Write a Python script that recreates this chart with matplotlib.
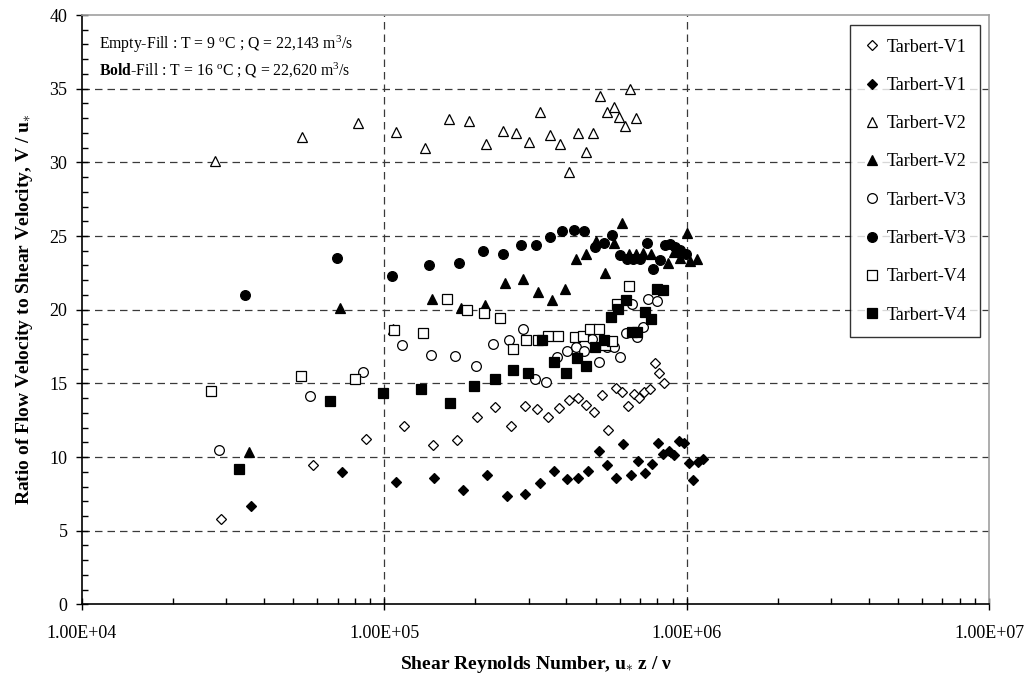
import matplotlib
matplotlib.use("Agg")
import matplotlib.pyplot as plt
from matplotlib.ticker import FixedLocator, NullFormatter, MultipleLocator

plt.rcParams['font.family'] = ['Liberation Serif', 'DejaVu Serif']
plt.rcParams['mathtext.fontset'] = 'custom'
plt.rcParams['mathtext.rm'] = 'Liberation Serif'
plt.rcParams['mathtext.it'] = 'Liberation Serif:italic'
plt.rcParams['mathtext.bf'] = 'Liberation Serif:bold'

# Shear Reynolds number (x) and V/u* (y) for each velocity profile
v1_empty_re = [28900, 57900, 86700, 116200, 145000, 174000, 203000, 232000, 262000, 291000,
               320000, 349000, 379000, 407000, 437000, 465000, 494000, 524000, 551000, 582000,
               612000, 638000, 670000, 698000, 723000, 757000, 786000, 812000, 841000]
v1_empty_ratio = [5.79, 9.44, 11.22, 12.12, 10.79, 11.13, 12.75, 13.38, 12.09, 13.49,
                  13.27, 12.75, 13.36, 13.87, 14.01, 13.51, 13.06, 14.21, 11.85, 14.68,
                  14.44, 13.49, 14.26, 13.99, 14.44, 14.62, 16.4, 15.72, 15.05]

v1_bold_re = [36200, 72400, 109300, 145500, 182000, 218000, 255000, 291000, 327000, 363000,
              401000, 436000, 473000, 511000, 547000, 583000, 618000, 656000, 692000, 728000,
              766000, 802000, 837000, 877000, 909000, 946000, 983000, 1019000, 1052000,
              1093000, 1129000]
v1_bold_ratio = [6.68, 9.0, 8.29, 8.56, 7.77, 8.76, 7.39, 7.48, 8.24, 9.08,
                 8.54, 8.6, 9.08, 10.43, 9.48, 8.58, 10.88, 8.81, 9.73, 8.92,
                 9.53, 10.95, 10.2, 10.38, 10.16, 11.1, 10.95, 9.59, 8.42,
                 9.66, 9.86]

v2_empty_re = [27500, 53500, 82000, 109200, 136300, 163600, 191000, 217700, 246000, 273000,
               300600, 327500, 354400, 381500, 408500, 436400, 463500, 490000, 515000, 546000,
               574000, 599000, 627000, 650000, 680000]
v2_empty_ratio = [30.1, 31.75, 32.7, 32.08, 31.0, 32.94, 32.83, 31.27, 32.15, 31.97,
                  31.36, 33.39, 31.86, 31.27, 29.34, 31.99, 30.7, 31.99, 34.5, 33.44,
                  33.78, 33.1, 32.49, 35.0, 33.03]

v2_bold_re = [35700, 71300, 106800, 143300, 179000, 215800, 251000, 287000, 322000, 358000,
              395000, 431000, 466000, 503000, 537000, 577000, 610000, 646000, 680000, 719000,
              765000, 865000, 905000, 950000, 1002000, 1026000, 1079000]
v2_bold_ratio = [10.34, 20.1, 18.66, 20.72, 20.14, 20.32, 21.81, 22.1, 21.2, 20.63,
                 21.38, 23.42, 23.78, 24.66, 22.47, 24.55, 25.9, 23.78, 23.78, 23.87,
                 23.8, 23.19, 23.9, 23.5, 25.18, 23.3, 23.43]

v3_empty_re = [28400, 56900, 85300, 114400, 143000, 171700, 200400, 228700, 257600, 286500,
               313900, 342000, 372000, 401000, 429000, 459000, 486500, 514000, 544000, 577000,
               603000, 631000, 658000, 684000, 716000, 743000, 800000]
v3_empty_ratio = [10.5, 14.12, 15.79, 17.59, 16.94, 16.89, 16.19, 17.66, 17.95, 18.67,
                  15.27, 15.07, 16.76, 17.2, 17.48, 17.2, 18.04, 16.44, 17.48, 17.48,
                  16.8, 18.4, 20.4, 18.15, 18.8, 20.7, 20.6]

v3_bold_re = [34600, 69700, 106000, 141000, 176500, 212000, 247000, 283500, 318000, 353600,
              388000, 424500, 458000, 496000, 533000, 566000, 600000, 634000, 667000, 702000,
              741000, 776000, 816000, 848000, 881000, 915000, 950000, 995000]
v3_bold_ratio = [21.0, 23.5, 22.31, 23.01, 23.19, 23.96, 23.8, 24.37, 24.39, 24.93,
                 25.36, 25.41, 25.36, 24.23, 24.55, 25.07, 23.73, 23.45, 23.45, 23.45,
                 24.55, 22.74, 23.37, 24.39, 24.46, 24.28, 24.05, 23.8]

v4_empty_re = [26700, 53200, 80100, 107300, 133800, 160700, 187700, 214400, 241000, 267000,
               294000, 322000, 349000, 374000, 427000, 453000, 480000, 512000, 537000, 565000,
               587000, 643000]
v4_empty_ratio = [14.48, 15.52, 15.31, 18.62, 18.39, 20.72, 19.98, 19.75, 19.46, 17.32,
                  17.97, 17.93, 18.2, 18.2, 18.15, 18.2, 18.67, 18.67, 17.6, 17.85,
                  20.4, 21.63]

v4_bold_re = [33000, 65900, 99000, 132500, 165000, 198700, 231500, 265500, 298400, 331800,
              363600, 398000, 433000, 464500, 496500, 534000, 562000, 594000, 628000, 658000,
              684000, 730000, 762000, 800000, 837000]
v4_bold_ratio = [9.21, 13.8, 14.32, 14.62, 13.69, 14.82, 15.32, 15.9, 15.68, 17.97,
                 16.44, 15.68, 16.71, 16.17, 17.48, 17.93, 19.48, 20.02, 20.66, 18.5,
                 18.5, 19.82, 19.34, 21.38, 21.33]

series_labels = ["Tarbert-V1", "Tarbert-V1", "Tarbert-V2", "Tarbert-V2",
                 "Tarbert-V3", "Tarbert-V3", "Tarbert-V4", "Tarbert-V4"]
x_tick_values = [1e4, 1e5, 1e6, 1e7]
x_tick_labels = ["1.00E+04", "1.00E+05", "1.00E+06", "1.00E+07"]
y_tick_values = [0, 5, 10, 15, 20, 25, 30, 35, 40]

W, H = 1034, 681
fig = plt.figure(figsize=(W / 100, H / 100), dpi=100)
ax = fig.add_axes([82 / W, 1 - 604.4 / H, 907 / W, 589.4 / H])

styles = [
    ('D', 'white', 4.9), ('D', 'black', 4.9),
    ('^', 'white', 7.6), ('^', 'black', 7.6),
    ('o', 'white', 7.0), ('o', 'black', 7.0),
    ('s', 'white', 7.0), ('s', 'black', 7.0),
]
data = [
    (v1_empty_re, v1_empty_ratio), (v1_bold_re, v1_bold_ratio),
    (v2_empty_re, v2_empty_ratio), (v2_bold_re, v2_bold_ratio),
    (v3_empty_re, v3_empty_ratio), (v3_bold_re, v3_bold_ratio),
    (v4_empty_re, v4_empty_ratio), (v4_bold_re, v4_bold_ratio),
]

for (xs, ys), (mk, fc, ms), lab in zip(data, styles, series_labels):
    ax.plot(xs, ys, linestyle='none', marker=mk, markersize=ms,
            markerfacecolor=fc, markeredgecolor='black', markeredgewidth=0.9,
            label=lab, zorder=3)

ax.set_xscale('log')
ax.set_xlim(1e4, 1e7)
ax.set_ylim(0, 40)

ax.xaxis.set_major_locator(FixedLocator(x_tick_values))
ax.set_xticklabels(x_tick_labels)
ax.xaxis.set_minor_locator(FixedLocator(
    [m * 10 ** e for e in (4, 5, 6) for m in range(2, 10)]))
ax.xaxis.set_minor_formatter(NullFormatter())
ax.set_yticks(y_tick_values)
ax.yaxis.set_minor_locator(MultipleLocator(1))

ax.tick_params(axis='both', which='major', direction='inout', length=9,
               width=1, labelsize=13, color='black')
ax.tick_params(axis='both', which='minor', direction='in', length=4.5,
               width=1, color='black')
ax.tick_params(axis='x', which='major', pad=10)
ax.tick_params(axis='y', which='major', pad=6)
ax.tick_params(top=False, right=False, which='both')

for side in ('left', 'bottom'):
    ax.spines[side].set_color('black')
    ax.spines[side].set_linewidth(1.2)
for side in ('top', 'right'):
    ax.spines[side].set_color('#a0a0a0')
    ax.spines[side].set_linewidth(1.2)

# dashed reference grid
for yv in y_tick_values[1:-1]:
    ax.axhline(yv, color='#3a3a3a', linestyle=(0, (6, 4)), linewidth=0.9, zorder=1)
for xv in x_tick_values[1:-1]:
    ax.axvline(xv, color='#3a3a3a', linestyle=(0, (6, 4)), linewidth=0.9, zorder=1)

ax.set_xlabel('Shear Reynolds Number, u$_{\\ast}$ z / \u03bd',
              fontsize=14, fontweight='bold', labelpad=9)
ax.set_ylabel(r'Ratio of Flow Velocity to Shear Velocity, V / u$_{\ast}$',
              fontsize=14, fontweight='bold', labelpad=10)

fig.text(99 / W, 1 - 44 / H, r'Empty-Fill : T = 9 $^{\rm o}$C ; Q = 22,143 m$^3$/s',
         fontsize=11.3, va='center', ha='left')
fig.text(99 / W, 1 - 70 / H, r'$\mathbf{Bold}$-Fill : T = 16 $^{\rm o}$C ; Q = 22,620 m$^3$/s',
         fontsize=11.3, va='center', ha='left')

leg = ax.legend(loc='upper right', bbox_to_anchor=(0.990, 0.983),
                frameon=True, fancybox=False, fontsize=13,
                handlelength=0.9, handletextpad=0.35, labelspacing=1.18,
                borderpad=0.75, borderaxespad=0)
leg.get_frame().set_edgecolor('black')
leg.get_frame().set_linewidth(1.0)

fig.savefig('out.png', dpi=100, facecolor='white')
